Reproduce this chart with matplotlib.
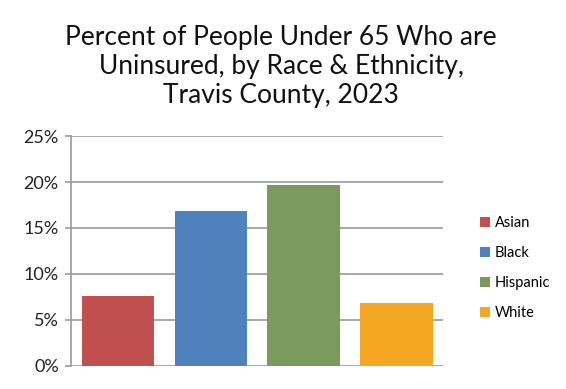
import matplotlib.pyplot as plt
from matplotlib.patches import Patch
from matplotlib.ticker import FuncFormatter

groups = ["Asian", "Black", "Hispanic", "White"]
pct_uninsured = [7.6, 16.9, 19.7, 6.8]
colors = ["#C0504D", "#4F81BD", "#7A9B5D", "#F5A623"]
y_ticks = [0, 5, 10, 15, 20, 25]

plt.rcParams["font.family"] = ["Lato", "DejaVu Sans"]

fig = plt.figure(figsize=(5.66, 3.89), dpi=100)
ax = fig.add_axes([0.126, 0.06, 0.657, 0.59])

x = list(range(len(groups)))
ax.bar(x, pct_uninsured, width=0.78, color=colors, zorder=3)

ax.set_xlim(-0.5, len(groups) - 0.5)
ax.set_ylim(0, 25)
ax.set_yticks(y_ticks)
ax.yaxis.set_major_formatter(FuncFormatter(lambda v, _: f"{v:.0f}%"))
ax.set_xticks([])
ax.grid(axis="y", color="#A0A0A0", linewidth=1.3, zorder=0)
ax.tick_params(axis="y", labelsize=13, length=4, color="#A0A0A0", width=1.3,
               pad=5, labelcolor="#222222")
for side in ["top", "right", "bottom"]:
    ax.spines[side].set_visible(False)
ax.spines["left"].set_color("#A0A0A0")
ax.spines["left"].set_linewidth(1.3)

fig.suptitle("Percent of People Under 65 Who are\nUninsured, by Race & Ethnicity,\nTravis County, 2023",
             x=0.497, y=0.935, fontsize=19, linespacing=1.2, color="#111111")

handles = [Patch(facecolor=c, label=g) for g, c in zip(groups, colors)]
fig.legend(handles=handles, loc="center left", bbox_to_anchor=(0.825, 0.31),
           frameon=False, fontsize=10.5, handlelength=0.7, handleheight=0.7,
           handletextpad=0.3, labelspacing=1.1)

fig.savefig("out.png", dpi=100)
